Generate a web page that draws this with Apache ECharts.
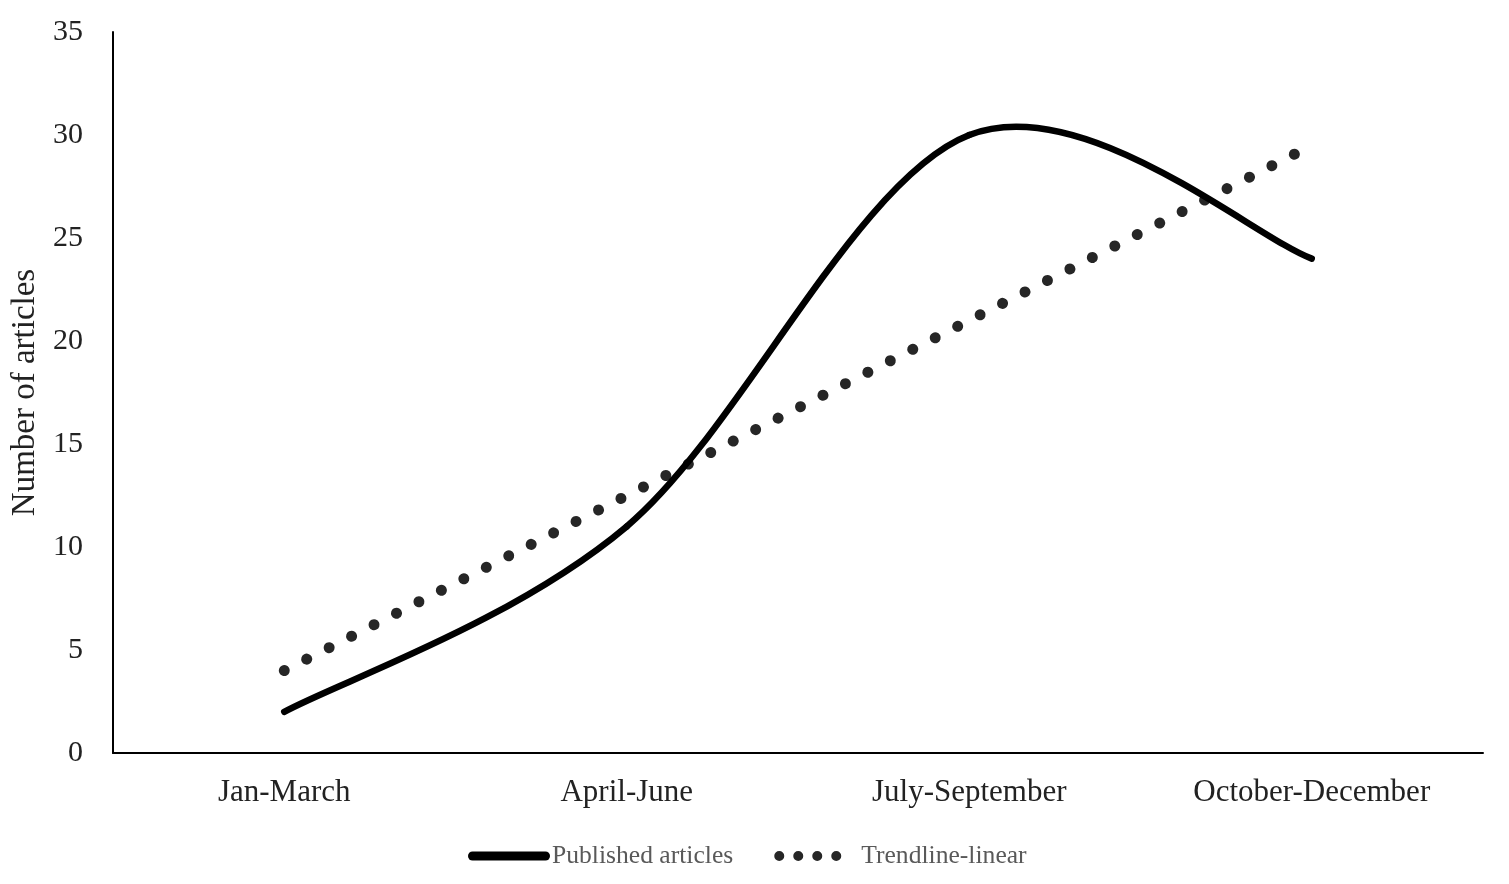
<!DOCTYPE html>
<html>
<head>
<meta charset="utf-8">
<style>
html,body{margin:0;padding:0;background:#fff;}
#chart{width:1509px;height:884px;}
</style>
<script src="https://cdn.jsdelivr.net/npm/echarts@6/dist/echarts.min.js"></script>
</head>
<body>
<div id="chart"></div>
<script>
const categories = ['Jan-March', 'April-June', 'July-September', 'October-December'];
const publishedArticles = [2, 11, 30, 24];
const trendlineLinear = [4, 12.5, 21, 29.5];
const yTicks = { min: 0, max: 35, interval: 5 };

const FONT = '"Liberation Serif", "Times New Roman", serif';

// Legend icons (bounding box 82 x 12)
const lineIcon = 'path://M0,0M82,12M4.5,1.5L77.5,1.5A4.5,4.5,0,0,1,77.5,10.5L4.5,10.5A4.5,4.5,0,0,1,4.5,1.5Z';
function dotPath(cx) {
  return 'M' + (cx - 5) + ',6A5,5,0,1,1,' + (cx + 5) + ',6A5,5,0,1,1,' + (cx - 5) + ',6Z';
}
const dotIcon = 'path://M0,0M82,12' + dotPath(5) + dotPath(24) + dotPath(43) + dotPath(62);

// Smooth curve (Catmull-Rom style, tension 1/6) through the data points, via axis scales
function renderSmooth(params, api) {
  const i = params.dataIndex;
  const n = publishedArticles.length;
  if (i >= n - 1) return null;
  const p = k => {
    const kk = Math.max(0, Math.min(n - 1, k));
    return api.coord([kk, publishedArticles[kk]]);
  };
  const p0 = p(i - 1), p1 = p(i), p2 = p(i + 1), p3 = p(i + 2);
  return {
    type: 'bezierCurve',
    shape: {
      x1: p1[0], y1: p1[1],
      cpx1: p1[0] + (p2[0] - p0[0]) / 6, cpy1: p1[1] + (p2[1] - p0[1]) / 6,
      cpx2: p2[0] - (p3[0] - p1[0]) / 6, cpy2: p2[1] - (p3[1] - p1[1]) / 6,
      x2: p2[0], y2: p2[1]
    },
    style: { stroke: '#000', lineWidth: 6.5, fill: null, lineCap: 'round', lineJoin: 'round' }
  };
}

const chart = echarts.init(document.getElementById('chart'));
chart.setOption({
  backgroundColor: '#fff',
  animation: false,
  grid: { left: 113, right: 26, top: 32, bottom: 131, containLabel: false, outerBoundsMode: 'none' },
  xAxis: {
    type: 'category',
    data: categories,
    boundaryGap: true,
    axisLine: { lineStyle: { color: '#000', width: 2 } },
    axisTick: { show: false },
    axisLabel: { fontFamily: FONT, fontSize: 31, color: '#222', margin: 24 },
    splitLine: { show: false }
  },
  yAxis: {
    type: 'value',
    min: yTicks.min, max: yTicks.max, interval: yTicks.interval,
    name: 'Number of articles',
    nameLocation: 'middle',
    nameGap: 60,
    nameTextStyle: { fontFamily: FONT, fontSize: 33, color: '#222' },
    axisLine: { show: true, lineStyle: { color: '#000', width: 2 } },
    axisTick: { show: false },
    axisLabel: { fontFamily: FONT, fontSize: 30, color: '#222', margin: 30 },
    splitLine: { show: false }
  },
  legend: {
    bottom: 10,
    left: 463,
    itemWidth: 82,
    itemHeight: 12,
    itemGap: 41,
    textStyle: { fontFamily: FONT, fontSize: 25.6, color: '#595959' },
    data: [
      { name: 'Published articles', icon: lineIcon, itemStyle: { color: '#000' }, textStyle: { padding: [0, 0, 0, -3] } },
      { name: 'Trendline-linear', icon: dotIcon, itemStyle: { color: '#262626' } }
    ]
  },
  series: [
    {
      name: 'Published articles',
      type: 'custom',
      renderItem: renderSmooth,
      data: publishedArticles.map((v, i) => [i, v]),
      encode: { x: 0, y: 1 },
      itemStyle: { color: '#000' },
      z: 3
    },
    {
      name: 'Trendline-linear',
      type: 'line',
      data: trendlineLinear,
      symbol: 'none',
      lineStyle: { color: '#262626', width: 11, type: [0.01, 25.2], cap: 'round' },
      itemStyle: { color: '#262626' },
      z: 2
    }
  ]
});
</script>
</body>
</html>
